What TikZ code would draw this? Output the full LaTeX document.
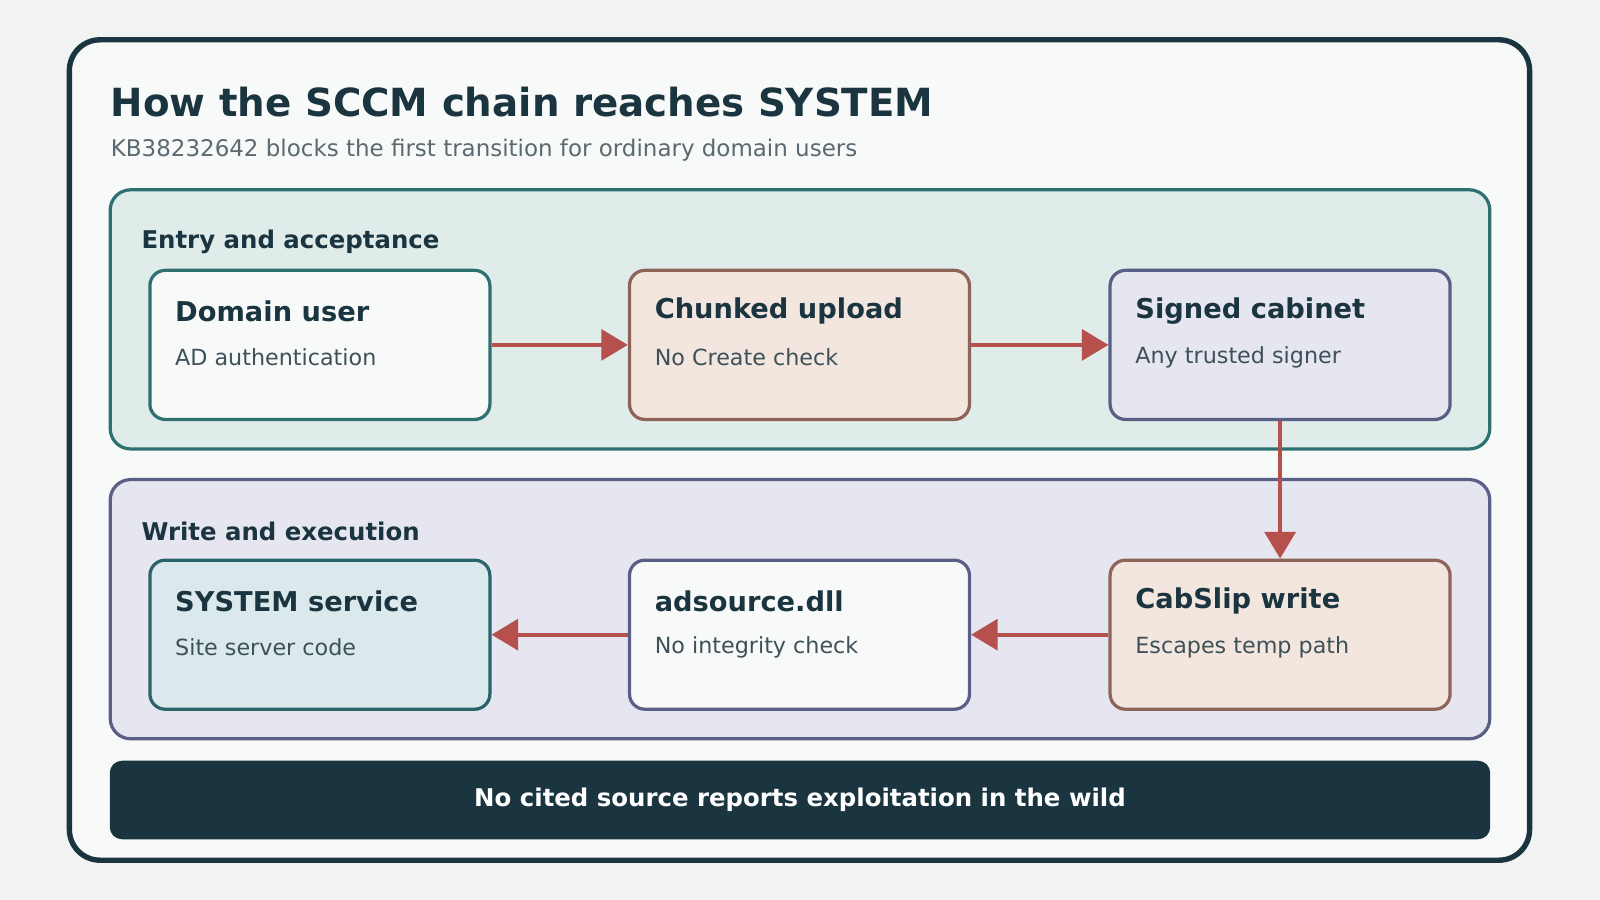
\documentclass[tikz,border=0pt]{standalone}
\usepackage{fontspec}
\setmainfont{DejaVu Sans}
\usetikzlibrary{arrows.meta,positioning}
\definecolor{pagebg}{HTML}{F0F3F2}
\definecolor{cardbg}{HTML}{F8FAF9}
\definecolor{ink}{HTML}{1B3540}
\definecolor{subink}{HTML}{5A6A70}
\definecolor{bodyink}{HTML}{3E5058}
\definecolor{tealbg}{HTML}{DFECE9}
\definecolor{tealln}{HTML}{2F7070}
\definecolor{lilbg}{HTML}{E6E6F0}
\definecolor{lilln}{HTML}{5A5F88}
\definecolor{peachbg}{HTML}{F3E6DF}
\definecolor{peachln}{HTML}{8E6458}
\definecolor{bluebg}{HTML}{DBE9EC}
\definecolor{bluln}{HTML}{2A6468}
\definecolor{flow}{HTML}{B5504C}
\tikzset{
  group/.style={draw, line width=0.9pt, rounded corners=0.2cm},
  stepbox/.style={draw, line width=0.9pt, rounded corners=0.15cm, minimum width=3.33cm, minimum height=1.46cm},
  boxtitle/.style={anchor=west, text=ink, font=\fontsize{7.6}{9}\selectfont\bfseries, inner sep=0pt},
  boxsub/.style={anchor=west, text=bodyink, font=\fontsize{6.2}{8}\selectfont, inner sep=0pt},
  flowarrow/.style={draw=flow, line width=1.2pt, -{Triangle[length=0.26cm,width=0.3cm]}}
}
\begin{document}
\begin{tikzpicture}[x=0.01cm, y=-0.01cm]
% page and card
\fill[pagebg] (0,0) rectangle (1568,882);
\draw[ink, fill=cardbg, line width=1.5pt, rounded corners=0.3cm] (68,39) rectangle (1499,843);
\node[anchor=west, text=ink, font=\fontsize{10.8}{13}\selectfont\bfseries, inner sep=0pt] (title) at (108,100) {How the SCCM chain reaches SYSTEM};
\node[anchor=west, text=subink, font=\fontsize{6.4}{8}\selectfont, inner sep=0pt] (subtitle) at (108,147) {KB38232642 blocks the first transition for ordinary domain users};

% groups
\draw[group, draw=tealln, fill=tealbg] (108,186) rectangle (1460,440);
\node[anchor=west, text=ink, font=\fontsize{6.8}{8}\selectfont\bfseries, inner sep=0pt] (entry) at (138,237) {Entry and acceptance};
\draw[group, draw=lilln, fill=lilbg] (108,470) rectangle (1460,724);
\node[anchor=west, text=ink, font=\fontsize{6.8}{8}\selectfont\bfseries, inner sep=0pt] (write) at (138,521) {Write and execution};

% steps
\node[stepbox, draw=tealln, fill=cardbg] (du) at (313.5,338) {};
\node[stepbox, draw=peachln, fill=peachbg] (cu) at (783.5,338) {};
\node[stepbox, draw=lilln, fill=lilbg] (sc) at (1254.5,338) {};
\node[stepbox, draw=bluln, fill=bluebg] (ss) at (313.5,622) {};
\node[stepbox, draw=lilln, fill=cardbg] (ad) at (783.5,622) {};
\node[stepbox, draw=peachln, fill=peachbg] (cw) at (1254.5,622) {};

\node[boxtitle] at (171,305) {Domain user};
\node[boxsub] at (171,350) {AD authentication};
\node[boxtitle] at (641,305) {Chunked upload};
\node[boxsub] at (641,350) {No Create check};
\node[boxtitle] at (1112,305) {Signed cabinet};
\node[boxsub] at (1112,350) {Any trusted signer};
\node[boxtitle] at (171,589) {SYSTEM service};
\node[boxsub] at (171,634) {Site server code};
\node[boxtitle] at (641,589) {adsource.dll};
\node[boxsub] at (641,634) {No integrity check};
\node[boxtitle] at (1112,589) {CabSlip write};
\node[boxsub] at (1112,634) {Escapes temp path};

% flow
\draw[flowarrow] (du) -- (cu);
\draw[flowarrow] (cu) -- (sc);
\draw[flowarrow] (sc) -- (cw);
\draw[flowarrow] (cw) -- (ad);
\draw[flowarrow] (ad) -- (ss);

% footer
\node[fill=ink, rounded corners=0.12cm, minimum width=13.52cm, minimum height=0.77cm, text=white, font=\fontsize{6.8}{8}\selectfont\bfseries] (note) at (784,784) {No cited source reports exploitation in the wild};
\end{tikzpicture}
\end{document}
